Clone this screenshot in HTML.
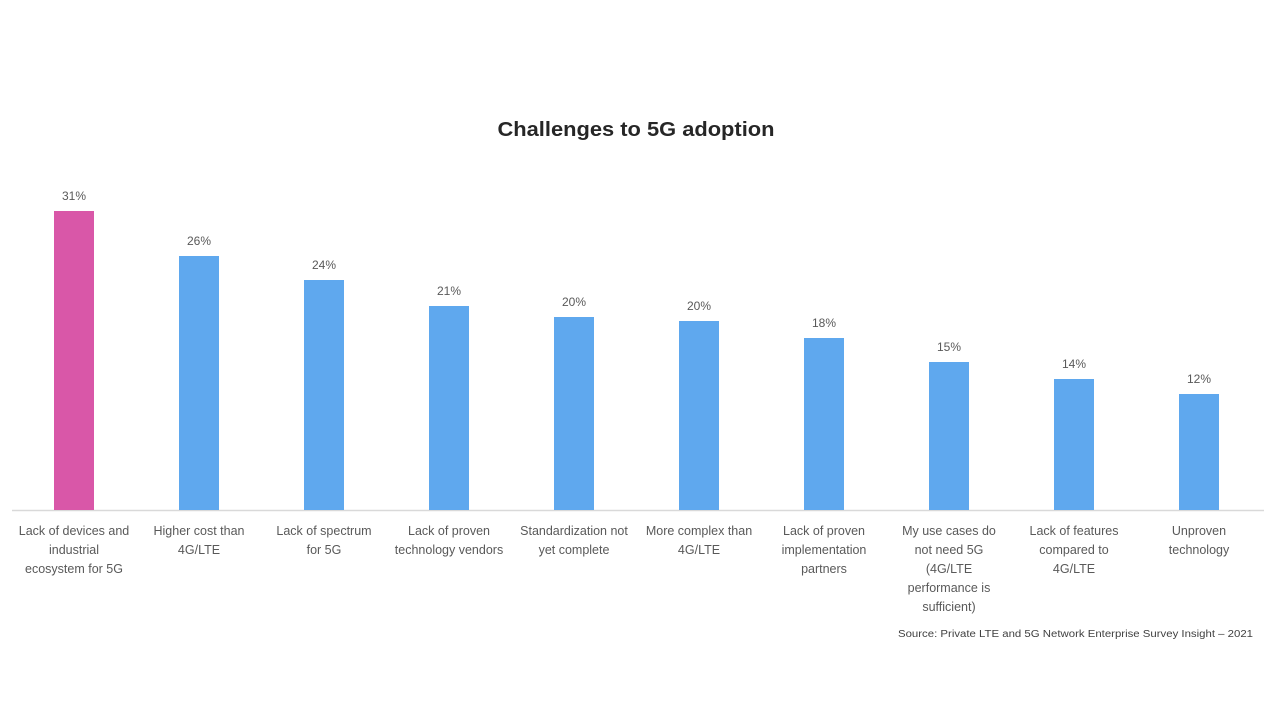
<!DOCTYPE html>
<html><head><meta charset="utf-8"><style>
body{margin:0;background:#fff;}
svg{display:block;font-family:"Liberation Sans",sans-serif;}
</style></head><body>
<svg width="1280" height="720" viewBox="0 0 1280 720">
<rect width="1280" height="720" fill="#fff"/>
<text x="636" y="136" text-anchor="middle" font-size="20" font-weight="bold" fill="#262626" textLength="277" lengthAdjust="spacingAndGlyphs">Challenges to 5G adoption</text>
<line x1="12" y1="510.5" x2="1264" y2="510.5" stroke="#d9d9d9" stroke-width="1.5"/>
<g fill="#5fa8ee">
<rect x="54" y="211" width="40" height="299" fill="#d957a8"/>
<rect x="179" y="256" width="40" height="254"/>
<rect x="304" y="280" width="40" height="230"/>
<rect x="429" y="306" width="40" height="204"/>
<rect x="554" y="317" width="40" height="193"/>
<rect x="679" y="321" width="40" height="189"/>
<rect x="804" y="338" width="40" height="172"/>
<rect x="929" y="362" width="40" height="148"/>
<rect x="1054" y="379" width="40" height="131"/>
<rect x="1179" y="394" width="40" height="116"/>
</g>
<g font-size="12" fill="#595959" text-anchor="middle">
<text x="74" y="200">31%</text>
<text x="199" y="245">26%</text>
<text x="324" y="269">24%</text>
<text x="449" y="295">21%</text>
<text x="574" y="306">20%</text>
<text x="699" y="310">20%</text>
<text x="824" y="327">18%</text>
<text x="949" y="351">15%</text>
<text x="1074" y="368">14%</text>
<text x="1199" y="383">12%</text>
</g>
<g font-size="12.5" fill="#595959" text-anchor="middle">
<text x="74" y="535">Lack of devices and</text><text x="74" y="554">industrial</text><text x="74" y="573">ecosystem for 5G</text>
<text x="199" y="535">Higher cost than</text><text x="199" y="554">4G/LTE</text>
<text x="324" y="535">Lack of spectrum</text><text x="324" y="554">for 5G</text>
<text x="449" y="535">Lack of proven</text><text x="449" y="554">technology vendors</text>
<text x="574" y="535">Standardization not</text><text x="574" y="554">yet complete</text>
<text x="699" y="535">More complex than</text><text x="699" y="554">4G/LTE</text>
<text x="824" y="535">Lack of proven</text><text x="824" y="554">implementation</text><text x="824" y="573">partners</text>
<text x="949" y="535">My use cases do</text><text x="949" y="554">not need 5G</text><text x="949" y="573">(4G/LTE</text><text x="949" y="592">performance is</text><text x="949" y="611">sufficient)</text>
<text x="1074" y="535">Lack of features</text><text x="1074" y="554">compared to</text><text x="1074" y="573">4G/LTE</text>
<text x="1199" y="535">Unproven</text><text x="1199" y="554">technology</text>
</g>
<text x="1253" y="637" text-anchor="end" font-size="10" fill="#404040" textLength="355" lengthAdjust="spacingAndGlyphs">Source: Private LTE and 5G Network Enterprise Survey Insight – 2021</text>
</svg>
</body></html>
